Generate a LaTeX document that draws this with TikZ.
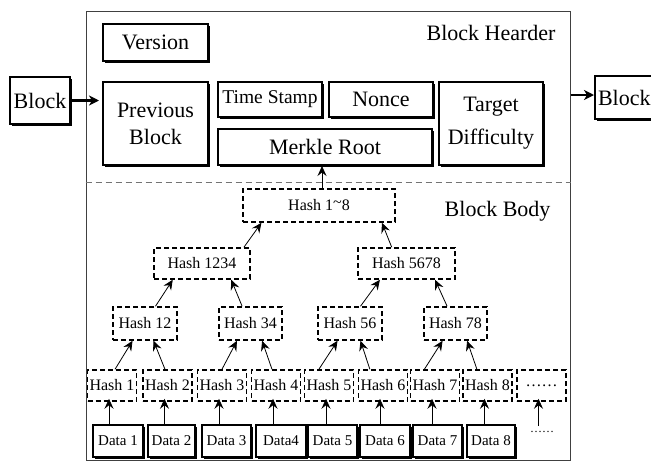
\documentclass[tikz,border=0pt]{standalone}
\usepackage{fontspec}
\setmainfont{Liberation Serif}
\usetikzlibrary{arrows.meta,shadows,calc}
\newcommand{\hashlink}[4]{\draw[tip] ($(#1.north west)!#2!(#1.north east)$) -- ($(#3.south west)!#4!(#3.south east)$);}
\begin{document}
\begin{tikzpicture}[x=1pt,y=-1pt,
  solidbox/.style={draw, line width=2pt, fill=white, inner sep=0pt, align=center,
     drop shadow={shadow xshift=2pt, shadow yshift=-2pt, opacity=1, fill=black}},
  hashbox/.style={draw, line width=1.5pt, dash pattern=on 5pt off 3pt, inner sep=0pt,
     minimum height=31pt, font=\fontsize{16}{18}\selectfont},
  big/.style={font=\fontsize{22}{27}\selectfont},
  databox/.style={solidbox, minimum height=32pt, font=\fontsize{15}{17}\selectfont},
  tip/.style={-{Stealth[length=10pt,width=9pt,inset=3.5pt]}, line width=0.8pt},
  bigtip/.style={-{Stealth[length=10pt,width=10pt,inset=3pt]}, line width=2.5pt},
]
\clip (0,0) rectangle (651,461);
\fill[white] (0,0) rectangle (651,461);

% outer frame
\node[draw=black!75, line width=1pt, minimum width=484pt, minimum height=449pt, inner sep=0pt] (frame) at (328,235.5) {};
\draw[black!55, line width=1pt, dash pattern=on 6pt off 4pt] (frame.west |- 0,182) -- (frame.east |- 0,182);

% header
\node[big, anchor=east] (hdr) at (559,33) {Block Hearder};
\node[solidbox, big, minimum width=105pt, minimum height=37pt] (ver) at (155.5,42.5) {Version};
\node[solidbox, big, minimum width=105pt, minimum height=83pt] (prev) at (155.5,123.5) {Previous\\Block};
\node[solidbox, font=\fontsize{19.5}{22}\selectfont, minimum width=104pt, minimum height=35pt] (ts) at (270,99.5) {Time Stamp};
\node[solidbox, big, minimum width=104pt, minimum height=35pt] (nonce) at (381,99.5) {Nonce};
\node[solidbox, font=\fontsize{22}{33}\selectfont, minimum width=104pt, minimum height=83pt] (tgt) at (491,123.5) {Target\\Difficulty};
\node[solidbox, big, minimum width=214pt, minimum height=36pt] (mr) at (325,147) {Merkle Root};

\node[solidbox, big, minimum width=60pt, minimum height=47pt] (lb) at (40,100.5) {Block};
\node[solidbox, big, anchor=west, minimum width=70pt, minimum height=43pt, text width=66pt, align=left] (rb) at (594,97.5) {\hspace*{1pt}Block};

\draw[bigtip] (lb.east) -- ([xshift=-3pt]prev.west |- lb.east);
\draw[bigtip] (frame.east |- 0,95) -- (rb.west |- 0,95);

% body
\node[big, anchor=east] (bdy) at (554,211) {Block Body};
\node[hashbox, minimum width=152pt, minimum height=33pt] (h18) at (319,205.5) {Hash 1\raisebox{0.5ex}{\textasciitilde}8};
\node[hashbox, minimum width=96pt] (h1234) at (202,263.5) {Hash 1234};
\node[hashbox, minimum width=97pt] (h5678) at (406.5,263.5) {Hash 5678};
\node[hashbox, minimum width=64pt, minimum height=33pt] (h12) at (145,323.5) {Hash 12};
\node[hashbox, minimum width=63pt, minimum height=33pt] (h34) at (250.5,323.5) {Hash 34};
\node[hashbox, minimum width=64pt, minimum height=33pt] (h56) at (350,323.5) {Hash 56};
\node[hashbox, minimum width=63pt, minimum height=33pt] (h78) at (455.5,323.5) {Hash 78};

\foreach \i/\x in {1/112,2/167.5,3/222,4/276,5/329,6/383,7/435,8/487.5}
  \node[hashbox, minimum width=49pt] (hA\i) at (\x,385.5) {Hash \i};
\node[hashbox, minimum width=49pt] (hA9) at (541.5,385.5) {……};

\foreach \i/\x/\w in {1/118/50,2/171.5/47,3/226.5/49,5/332.5/49,6/385/50,7/437.5/49,8/491/48}
  \node[databox, minimum width=\w pt] (d\i) at (\x,441) {Data \i};
\node[databox, minimum width=50pt] (d4) at (281,441) {Data4};
\node[font=\fontsize{12}{14}\selectfont, inner sep=5pt] (d9) at (542,432) {……};

\foreach \i in {1,...,9}{
  \path ([xshift=-3pt]hA\i.south) coordinate (s\i);
  \draw[tip, shorten >=-3pt] (s\i |- d\i.north) -- (s\i);
}

\draw[tip] (h18.north -| 322,0) -- (mr.south -| 322,0);

\hashlink{hA1}{0.56}{h12}{0.31}
\hashlink{hA2}{0.45}{h12}{0.63}
\hashlink{hA3}{0.5}{h34}{0.29}
\hashlink{hA4}{0.42}{h34}{0.68}
\hashlink{hA5}{0.3}{h56}{0.31}
\hashlink{hA6}{0.24}{h56}{0.66}
\hashlink{hA7}{0.29}{h78}{0.3}
\hashlink{hA8}{0.29}{h78}{0.68}
\hashlink{h12}{0.66}{h1234}{0.2}
\hashlink{h34}{0.37}{h1234}{0.8}
\hashlink{h56}{0.66}{h5678}{0.23}
\hashlink{h78}{0.37}{h5678}{0.79}
\hashlink{h1234}{0.93}{h18}{0.125}
\hashlink{h5678}{0.35}{h18}{0.91}
\end{tikzpicture}
\end{document}
